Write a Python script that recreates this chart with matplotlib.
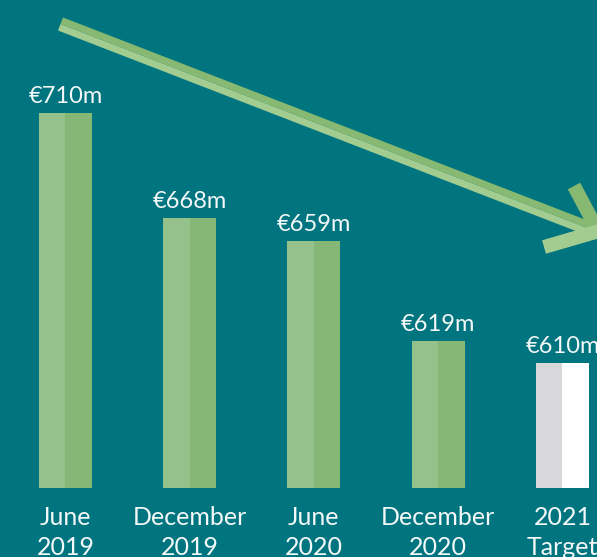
import numpy as np
import matplotlib.pyplot as plt
from matplotlib.patches import Polygon

# data
periods = ["June\n2019", "December\n2019", "June\n2020", "December\n2020", "2021\nTarget"]
costs = [710, 668, 659, 619, 610]  # €m
labels = ["€710m", "€668m", "€659m", "€619m", "€610m"]

BG = "#00757f"
GREEN_LIGHT = "#95c28a"
GREEN_DARK = "#85b777"
TARGET_LIGHT = "#d8d8da"
TARGET_DARK = "#ffffff"
TEXT = "#f4f8f8"
FONT = ["Lato", "DejaVu Sans"]

W, H = 597, 557
fig = plt.figure(figsize=(W / 100, H / 100), dpi=100, facecolor=BG)
ax = fig.add_axes([0, 0, 1, 1])
ax.set_facecolor(BG)

base = 560  # value at the bar baseline
x = np.arange(len(costs))
half = 0.2133

for i, (xi, v) in enumerate(zip(x, costs)):
    last = i == len(costs) - 1
    c1 = TARGET_LIGHT if last else GREEN_LIGHT
    c2 = TARGET_DARK if last else GREEN_DARK
    ax.bar(xi - half / 2, v - base, width=half, bottom=base, color=c1, linewidth=0)
    ax.bar(xi + half / 2, v - base, width=half, bottom=base, color=c2, linewidth=0)
    ax.annotate(labels[i], (xi, v), xytext=(0, 4), textcoords="offset points",
                ha="center", va="bottom", color=TEXT, fontsize=17, family=FONT)

ax.set_xlim(-0.527, 4.278)
ax.set_ylim(532.4, 755.2)
ax.set_xticks(x)
ax.set_xticklabels(periods, color=TEXT, fontsize=18, family=FONT, linespacing=1.38)
ax.tick_params(axis="x", length=0, pad=-37)
ax.set_yticks([])
for s in ax.spines.values():
    s.set_visible(False)

# decorative downward arrow, drawn on an overlay in pixel units
ov = fig.add_axes([0, 0, 1, 1], facecolor="none")
ov.set_xlim(0, W)
ov.set_ylim(H, 0)
ov.axis("off")


def band(p0, p1, w0, w1):
    # strip between offsets w0 and w1 from the p0->p1 line (positive = upward side)
    p0, p1 = np.array(p0, float), np.array(p1, float)
    d = (p1 - p0) / np.linalg.norm(p1 - p0)
    n = np.array([d[1], -d[0]])
    return [p0 + n * w0, p1 + n * w0, p1 + n * w1, p0 + n * w1]


start, tip = (60.5, 24), (590, 229)
ov.add_patch(Polygon(band(start, tip, 0, 7), color="#87b972", lw=0))
ov.add_patch(Polygon(band(start, tip, -7, 0), color="#a2cc90", lw=0))
ov.add_patch(Polygon(band((574, 186), (599, 233), -7, 7), color="#87b972", lw=0))
ov.add_patch(Polygon(band((544, 247), (599, 231), -7, 7), color="#a2cc90", lw=0))

fig.savefig("out.png", dpi=100, facecolor=BG)
